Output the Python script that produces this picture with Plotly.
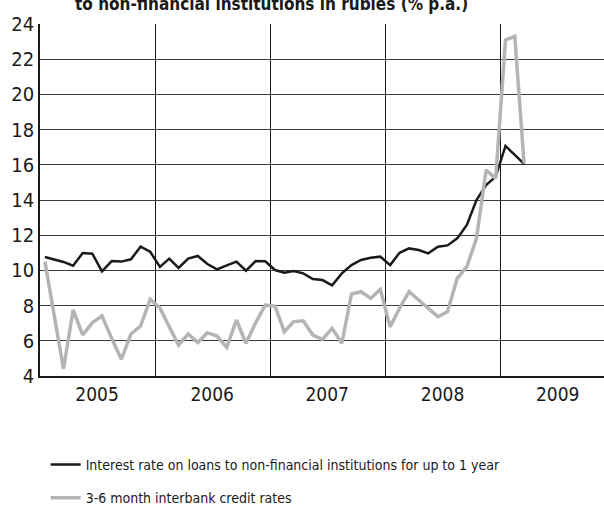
import plotly.graph_objects as go

months = [f"{y}-{m:02d}" for y in range(2005, 2010) for m in range(1, 13)][:51]

loans = [10.76, 10.63, 10.48, 10.27, 10.99, 10.95, 9.95, 10.53, 10.5, 10.63, 11.35, 11.06,
         10.2, 10.67, 10.14, 10.67, 10.82, 10.36, 10.06, 10.29, 10.5, 9.98, 10.53, 10.52,
         10.02, 9.87, 9.97, 9.83, 9.51, 9.45, 9.15, 9.83, 10.3, 10.59, 10.72, 10.78,
         10.3, 11.0, 11.25, 11.16, 10.97, 11.35, 11.42, 11.82, 12.58, 14.0, 14.85, 15.33,
         17.07, 16.56, 16.05]

interbank = [10.5, 7.5, 4.4, 7.75, 6.33, 7.03, 7.41, 6.14, 4.95, 6.39, 6.84, 8.36,
             7.86, 6.8, 5.76, 6.39, 5.9, 6.46, 6.27, 5.63, 7.18, 5.86, 7.03, 8.03,
             7.97, 6.52, 7.09, 7.14, 6.33, 6.08, 6.71, 5.86, 8.66, 8.79, 8.41, 8.92,
             6.8, 7.85, 8.79, 8.32, 7.85, 7.37, 7.65, 9.55, 10.21, 11.82, 15.7, 15.23,
             23.09, 23.3, 16.08]

year_labels = ["2005", "2006", "2007", "2008", "2009"]
year_mid = [f"{y}-07-01" for y in range(2005, 2010)]
year_start = [f"{y}-01-01" for y in range(2006, 2010)]
y_ticks = list(range(4, 25, 2))

FONT = "DejaVu Sans Condensed, Liberation Sans Narrow, Liberation Sans, sans-serif"

fig = go.Figure()
fig.add_trace(go.Scatter(
    x=months, y=loans, mode="lines", xperiod="M1", xperiodalignment="middle",
    line=dict(color="#1a1a1a", width=2.5),
    name="Interest rate on loans to non-financial institutions for up to 1 year",
    legendgroup="a"))
fig.add_trace(go.Scatter(
    x=months, y=interbank, mode="lines", xperiod="M1", xperiodalignment="middle",
    line=dict(color="#b4b4b4", width=3.5),
    name="3-6 month interbank credit rates", legendgroup="b"))

fig.update_layout(
    width=604, height=505,
    margin=dict(l=40, r=0, t=24, b=129, autoexpand=False),
    paper_bgcolor="white", plot_bgcolor="white",
    font=dict(family=FONT, color="#1a1a1a"),
    showlegend=True,
    legend=dict(x=0.01, xanchor="left", y=-0.207, yanchor="top",
                font=dict(size=14, family=FONT, color="#1a1a1a"),
                tracegroupgap=12, bgcolor="rgba(0,0,0,0)"),
    annotations=[dict(
        text="<b>Interest rates on loans<br>to non-financial institutions in rubles (% p.a.)</b>",
        xref="paper", yref="paper", x=0.41, y=1.024, xanchor="center", yanchor="bottom",
        showarrow=False, font=dict(size=17, family=FONT, color="#1a1a1a"))],
)

fig.update_xaxes(
    type="date", range=["2005-01-01", "2009-11-25"], automargin=False,
    tickmode="array", tickvals=year_mid, ticktext=year_labels,
    ticks="", showgrid=False, tickfont=dict(size=19), ticklabelstandoff=0,
    showline=True, linecolor="#1a1a1a", linewidth=1.5,
    minor=dict(tickmode="array", tickvals=year_start, showgrid=True,
               gridcolor="#1a1a1a", gridwidth=1, ticks=""),
    zeroline=False,
)
fig.update_yaxes(
    range=[4, 24], tickmode="array", tickvals=y_ticks, automargin=False,
    ticks="", showgrid=True, gridcolor="#3a3a3a", gridwidth=1,
    tickfont=dict(size=20), ticklabelstandoff=0,
    showline=True, linecolor="#1a1a1a", linewidth=1.5, zeroline=False,
)

fig.write_html("out.html", config={"displayModeBar": False},
               post_script="document.body.style.margin='0';")
